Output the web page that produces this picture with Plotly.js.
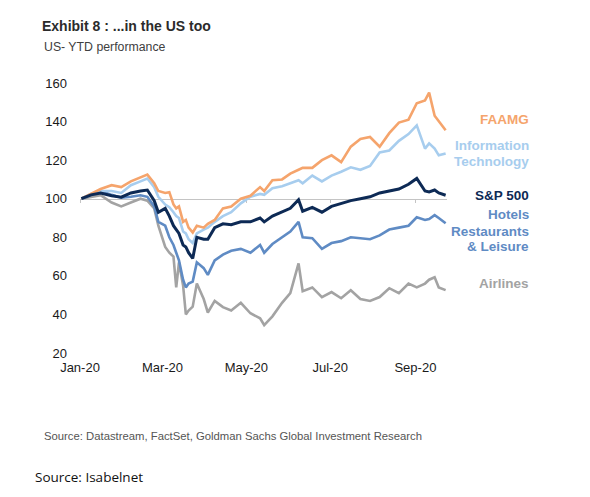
<!DOCTYPE html>
<html>
<head>
<meta charset="utf-8">
<script src="https://cdn.plot.ly/plotly-3.0.1.min.js"></script>
<style>
  html, body { margin: 0; padding: 0; background: #ffffff; }
  #chart { width: 590px; height: 497px; }
</style>
</head>
<body>
<div id="chart"></div>
<script>
// ---- data ----
const dates = [
  '2020-01-02','2020-01-09','2020-01-16','2020-01-24','2020-01-31','2020-02-07','2020-02-14','2020-02-19',
  '2020-02-24','2020-02-27','2020-03-03','2020-03-06','2020-03-09','2020-03-11','2020-03-13','2020-03-16',
  '2020-03-18','2020-03-20','2020-03-23','2020-03-26','2020-03-31','2020-04-03','2020-04-08','2020-04-14',
  '2020-04-20','2020-04-27','2020-05-04','2020-05-11','2020-05-14','2020-05-20','2020-05-27','2020-06-02',
  '2020-06-08','2020-06-11','2020-06-18','2020-06-25','2020-07-02','2020-07-09','2020-07-16','2020-07-23',
  '2020-07-30','2020-08-06','2020-08-13','2020-08-20','2020-08-27','2020-09-02','2020-09-08','2020-09-11',
  '2020-09-15','2020-09-18','2020-09-23'
];
const faamg = [
  100,102.5,105,107,106,109,111,112.5,
  108,104,103,103.4,97,95,96,88,
  89,85,82.5,86,85,87,89,95,
  96,100,101.5,106,104,109.6,110,113,
  115,116,116,120,122.5,119,127,131,
  132,127,134,139.5,141,149.5,151,155,
  143,140,135.5
];
const infoTech = [
  100,102.5,104,104,103,107,109,110.5,
  106,101,97,95.6,93,91,90,83,
  82,79,77,82,84,85,88,91,
  93,97.6,101,102.5,102,105.4,106.5,108,
  109.6,108,112,109,112,114,116.3,115,
  117,124,125,130,133.5,138,126,128.7,
  126,122.5,123.5
];
const sp500 = [
  100,102,103,101.5,100.8,103,104,104.5,
  99,93,95,91,86,84,82,76,
  75,72,69,80,79,79,85,87,
  86.5,88,88,90,88,91,93,95,
  99.5,93.5,95.5,93,96,97.5,99,100,
  101,103,104,105,107.5,110.5,104,103.5,
  104.5,103,101.8
];
const hotels = [
  100,101.8,104,102,100.5,101,101.8,101,
  96,88,86,80,76,72,68,58,
  54,56,57,67,64,60.5,68,71,
  73,74,72,76,72,76.5,80,83,
  88,80,79.5,74,77,78,80,79.5,
  79,81,84,85,86,90.4,89,89.5,
  91.5,90,87.3
];
const airlines = [
  100,100.8,101.8,98,96,98,100,99,
  95,86,75,72,70,54,67,55,
  40,42,44,56,48,41,47,43.8,
  42,46,40.6,38,34.5,39,46,51,
  66.5,52,54,49,51.6,48.4,52.5,48,
  47,49,53.6,51,56,54,56,58,
  59.3,54,52.6
];
const seriesNames = ['FAAMG','Information Technology','S&P 500','Hotels Restaurants & Leisure','Airlines'];
const tickDates = ['2020-01-01','2020-03-01','2020-05-01','2020-07-01','2020-09-01'];
const tickLabels = ['Jan-20','Mar-20','May-20','Jul-20','Sep-20'];
const yTicks = [20,40,60,80,100,120,140,160];

// ---- styles ----
const colors = {
  faamg: '#F5A46C',
  it: '#A7CDEE',
  sp: '#0D2A55',
  hotels: '#5F8BC4',
  airlines: '#A3A3A3'
};
const sans = '"Liberation Sans", Arial, sans-serif';

function tr(y, name, color, width) {
  return { x: dates, y: y, name: name, type: 'scatter', mode: 'lines',
           line: { color: color, width: width, shape: 'linear' }, hoverinfo: 'skip' };
}
const data = [
  tr(airlines, seriesNames[4], colors.airlines, 2.6),
  tr(hotels, seriesNames[3], colors.hotels, 2.6),
  tr(infoTech, seriesNames[1], colors.it, 2.6),
  tr(faamg, seriesNames[0], colors.faamg, 2.6),
  tr(sp500, seriesNames[2], colors.sp, 3)
];

// plot area: left 80, right 447, top 82.7, bottom 353
const L = 80, R = 447, T = 82.7, B = 353;
const W = R - L, H = B - T;
const px = v => (v - L) / W;
const py = v => (B - v) / H;

function lab(text, color, yVal) {
  return { text: '<b>' + text + '</b>', xref: 'paper', yref: 'y', x: px(531), y: yVal,
           xanchor: 'right', yanchor: 'middle', showarrow: false,
           font: { family: sans, size: 13.5, color: color } };
}

const layout = {
  width: 590, height: 497,
  paper_bgcolor: '#ffffff', plot_bgcolor: '#ffffff',
  margin: { l: L, r: 590 - R, t: T, b: 497 - B, pad: 0 },
  showlegend: false,
  title: { text: '<b>Exhibit 8 : ...in the US too</b>', xref: 'container', yref: 'container',
           x: 42 / 590, xanchor: 'left', y: 1 - 26 / 497, yanchor: 'middle',
           font: { family: sans, size: 14, color: '#2b2b2b' } },
  xaxis: {
    type: 'date', range: ['2020-01-01', '2020-09-24'],
    tickvals: tickDates, ticktext: tickLabels,
    showgrid: false, zeroline: false, showline: false, ticks: '',
    tickfont: { family: sans, size: 13, color: '#1a1a1a' },
    ticklabelstandoff: 5
  },
  xaxis2: {
    type: 'date', range: ['2020-01-01', '2020-09-24'], overlaying: 'x',
    anchor: 'free', position: (100 - 20) / 140,
    tickvals: tickDates, showticklabels: false,
    showgrid: false, zeroline: false, showline: true, linecolor: '#c4c4c4', linewidth: 1,
    ticks: 'outside', ticklen: 3, tickcolor: '#c4c4c4', layer: 'below traces'
  },
  yaxis: {
    range: [20, 160], tickvals: yTicks,
    showgrid: false, zeroline: false, showline: false, ticks: '',
    tickfont: { family: sans, size: 13, color: '#1a1a1a' },
    ticklabelstandoff: 12
  },
  annotations: [
    { text: 'US- YTD performance', xref: 'paper', yref: 'paper', x: px(42), y: py(46.5),
      xanchor: 'left', yanchor: 'middle', showarrow: false,
      font: { family: sans, size: 12.3, color: '#404040' } },
    lab('FAAMG', colors.faamg, 141.2),
    lab('Information', colors.it, 127.7),
    lab('Technology', colors.it, 119.4),
    lab('S&P 500', colors.sp, 101.6),
    lab('Hotels', colors.hotels, 91.7),
    lab('Restaurants', colors.hotels, 83.2),
    lab('& Leisure', colors.hotels, 75.4),
    lab('Airlines', colors.airlines, 56.0),
    { text: 'Source: Datastream, FactSet, Goldman Sachs Global Investment Research',
      xref: 'paper', yref: 'paper', x: px(42), y: py(436),
      xanchor: 'left', yanchor: 'middle', showarrow: false,
      font: { family: sans, size: 11.3, color: '#555555' } },
    { text: 'Source: Isabelnet', xref: 'paper', yref: 'paper', x: px(33), y: py(477),
      xanchor: 'left', yanchor: 'middle', showarrow: false,
      font: { family: '"Open Sans", "Noto Sans", sans-serif', size: 13.5, color: '#111111' } }
  ]
};

// invisible helper trace so the reference line axis (xaxis2) renders
data.push({ x: [dates[0]], y: [100], xaxis: 'x2', yaxis: 'y', mode: 'markers',
            marker: { opacity: 0 }, hoverinfo: 'skip', showlegend: false });

Plotly.newPlot('chart', data, layout, { staticPlot: true, displayModeBar: false });
</script>
</body>
</html>
